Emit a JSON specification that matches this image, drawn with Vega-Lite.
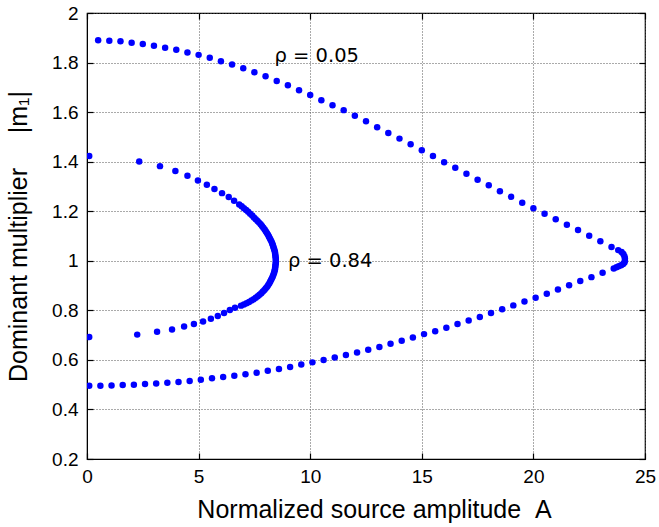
{
  "$schema": "https://vega.github.io/schema/vega-lite/v6.json",
  "autosize": {"type": "none"},
  "width": 558,
  "height": 446,
  "padding": {"left": 87, "top": 13, "right": 14, "bottom": 68},
  "background": "white",
  "config": {
    "view": {"stroke": "black", "strokeWidth": 1.2},
    "axis": {
      "labelFont": "Liberation Sans",
      "labelFontSize": 19,
      "labelColor": "black",
      "titleFont": "Liberation Sans",
      "titleFontSize": 25,
      "titleFontWeight": "normal",
      "titleColor": "black",
      "domainColor": "black",
      "tickColor": "black",
      "tickSize": -6,
      "tickWidth": 1.2,
      "gridColor": "#555",
      "gridDash": [1, 2],
      "gridWidth": 1,
      "gridOpacity": 1
    }
  },
  "datasets": {
    "pts": [
      {"s": "0.05", "x": 0.5, "y": 1.890}, {"s": "0.05", "x": 1.0, "y": 1.888}, {"s": "0.05", "x": 1.5, "y": 1.886}, {"s": "0.05", "x": 2.0, "y": 1.880},
      {"s": "0.05", "x": 2.5, "y": 1.875}, {"s": "0.05", "x": 3.0, "y": 1.868}, {"s": "0.05", "x": 3.5, "y": 1.860}, {"s": "0.05", "x": 4.0, "y": 1.852},
      {"s": "0.05", "x": 4.5, "y": 1.841}, {"s": "0.05", "x": 5.0, "y": 1.831}, {"s": "0.05", "x": 5.5, "y": 1.819}, {"s": "0.05", "x": 6.0, "y": 1.805},
      {"s": "0.05", "x": 6.5, "y": 1.792}, {"s": "0.05", "x": 7.0, "y": 1.777}, {"s": "0.05", "x": 7.5, "y": 1.761}, {"s": "0.05", "x": 8.0, "y": 1.745},
      {"s": "0.05", "x": 8.5, "y": 1.726}, {"s": "0.05", "x": 9.0, "y": 1.708}, {"s": "0.05", "x": 9.5, "y": 1.688}, {"s": "0.05", "x": 10.0, "y": 1.669},
      {"s": "0.05", "x": 10.5, "y": 1.648}, {"s": "0.05", "x": 11.0, "y": 1.628}, {"s": "0.05", "x": 11.5, "y": 1.608}, {"s": "0.05", "x": 12.0, "y": 1.585},
      {"s": "0.05", "x": 12.5, "y": 1.563}, {"s": "0.05", "x": 13.0, "y": 1.539}, {"s": "0.05", "x": 13.5, "y": 1.516}, {"s": "0.05", "x": 14.0, "y": 1.493},
      {"s": "0.05", "x": 14.5, "y": 1.470}, {"s": "0.05", "x": 15.0, "y": 1.446}, {"s": "0.05", "x": 15.5, "y": 1.423}, {"s": "0.05", "x": 16.0, "y": 1.398},
      {"s": "0.05", "x": 16.5, "y": 1.375}, {"s": "0.05", "x": 17.0, "y": 1.351}, {"s": "0.05", "x": 17.5, "y": 1.327}, {"s": "0.05", "x": 18.0, "y": 1.305},
      {"s": "0.05", "x": 18.5, "y": 1.281}, {"s": "0.05", "x": 19.0, "y": 1.258}, {"s": "0.05", "x": 19.5, "y": 1.234}, {"s": "0.05", "x": 20.0, "y": 1.212},
      {"s": "0.05", "x": 20.5, "y": 1.190}, {"s": "0.05", "x": 21.0, "y": 1.168}, {"s": "0.05", "x": 21.5, "y": 1.145}, {"s": "0.05", "x": 22.0, "y": 1.124},
      {"s": "0.05", "x": 22.5, "y": 1.101}, {"s": "0.05", "x": 23.0, "y": 1.079}, {"s": "0.05", "x": 23.5, "y": 1.056},
      {"s": "0.05", "x": 23.8, "y": 1.043}, {"s": "0.05", "x": 23.95, "y": 1.035}, {"s": "0.05", "x": 24.03, "y": 1.027}, {"s": "0.05", "x": 24.08, "y": 1.018},
      {"s": "0.05", "x": 24.1, "y": 1.009}, {"s": "0.05", "x": 24.1, "y": 1.0}, {"s": "0.05", "x": 24.08, "y": 0.993}, {"s": "0.05", "x": 24.02, "y": 0.987},
      {"s": "0.05", "x": 23.93, "y": 0.982}, {"s": "0.05", "x": 23.82, "y": 0.978}, {"s": "0.05", "x": 23.72, "y": 0.974},
      {"s": "0.05", "x": 23.6, "y": 0.969}, {"s": "0.05", "x": 23.1, "y": 0.952}, {"s": "0.05", "x": 22.6, "y": 0.934}, {"s": "0.05", "x": 22.1, "y": 0.918},
      {"s": "0.05", "x": 21.6, "y": 0.901}, {"s": "0.05", "x": 21.1, "y": 0.884}, {"s": "0.05", "x": 20.6, "y": 0.867}, {"s": "0.05", "x": 20.1, "y": 0.851},
      {"s": "0.05", "x": 19.6, "y": 0.836}, {"s": "0.05", "x": 19.1, "y": 0.820}, {"s": "0.05", "x": 18.6, "y": 0.804}, {"s": "0.05", "x": 18.1, "y": 0.789},
      {"s": "0.05", "x": 17.6, "y": 0.773}, {"s": "0.05", "x": 17.1, "y": 0.759}, {"s": "0.05", "x": 16.6, "y": 0.745}, {"s": "0.05", "x": 16.1, "y": 0.730},
      {"s": "0.05", "x": 15.6, "y": 0.716}, {"s": "0.05", "x": 15.1, "y": 0.704}, {"s": "0.05", "x": 14.6, "y": 0.690}, {"s": "0.05", "x": 14.1, "y": 0.677},
      {"s": "0.05", "x": 13.6, "y": 0.665}, {"s": "0.05", "x": 13.1, "y": 0.652}, {"s": "0.05", "x": 12.6, "y": 0.641}, {"s": "0.05", "x": 12.1, "y": 0.630},
      {"s": "0.05", "x": 11.6, "y": 0.620}, {"s": "0.05", "x": 11.1, "y": 0.610}, {"s": "0.05", "x": 10.6, "y": 0.600}, {"s": "0.05", "x": 10.1, "y": 0.590},
      {"s": "0.05", "x": 9.6, "y": 0.581}, {"s": "0.05", "x": 9.1, "y": 0.571}, {"s": "0.05", "x": 8.6, "y": 0.563}, {"s": "0.05", "x": 8.1, "y": 0.556},
      {"s": "0.05", "x": 7.6, "y": 0.548}, {"s": "0.05", "x": 7.1, "y": 0.542}, {"s": "0.05", "x": 6.6, "y": 0.536}, {"s": "0.05", "x": 6.1, "y": 0.531},
      {"s": "0.05", "x": 5.6, "y": 0.526}, {"s": "0.05", "x": 5.1, "y": 0.520}, {"s": "0.05", "x": 4.6, "y": 0.515}, {"s": "0.05", "x": 4.1, "y": 0.511},
      {"s": "0.05", "x": 3.6, "y": 0.508}, {"s": "0.05", "x": 3.1, "y": 0.505}, {"s": "0.05", "x": 2.6, "y": 0.503}, {"s": "0.05", "x": 2.1, "y": 0.500},
      {"s": "0.05", "x": 1.6, "y": 0.499}, {"s": "0.05", "x": 1.1, "y": 0.497}, {"s": "0.05", "x": 0.6, "y": 0.496}, {"s": "0.05", "x": 0.1, "y": 0.496},
      {"s": "0.84", "x": 0.1, "y": 1.423}, {"s": "0.84", "x": 2.34, "y": 1.401}, {"s": "0.84", "x": 3.27, "y": 1.382}, {"s": "0.84", "x": 3.96, "y": 1.362},
      {"s": "0.84", "x": 4.50, "y": 1.343}, {"s": "0.84", "x": 4.97, "y": 1.324}, {"s": "0.84", "x": 5.37, "y": 1.307}, {"s": "0.84", "x": 5.71, "y": 1.290},
      {"s": "0.84", "x": 6.05, "y": 1.273}, {"s": "0.84", "x": 6.35, "y": 1.257}, {"s": "0.84", "x": 6.59, "y": 1.242}, {"s": "0.84", "x": 6.82, "y": 1.227},
      {"s": "0.84", "x": 6.93, "y": 1.220}, {"s": "0.84", "x": 7.03, "y": 1.212}, {"s": "0.84", "x": 7.13, "y": 1.205}, {"s": "0.84", "x": 7.22, "y": 1.198},
      {"s": "0.84", "x": 7.31, "y": 1.190}, {"s": "0.84", "x": 7.40, "y": 1.183}, {"s": "0.84", "x": 7.48, "y": 1.175}, {"s": "0.84", "x": 7.56, "y": 1.168},
      {"s": "0.84", "x": 7.64, "y": 1.161}, {"s": "0.84", "x": 7.71, "y": 1.154}, {"s": "0.84", "x": 7.78, "y": 1.147}, {"s": "0.84", "x": 7.84, "y": 1.140},
      {"s": "0.84", "x": 7.90, "y": 1.133}, {"s": "0.84", "x": 7.96, "y": 1.126}, {"s": "0.84", "x": 8.01, "y": 1.119}, {"s": "0.84", "x": 8.06, "y": 1.112},
      {"s": "0.84", "x": 8.11, "y": 1.105}, {"s": "0.84", "x": 8.15, "y": 1.098}, {"s": "0.84", "x": 8.19, "y": 1.091}, {"s": "0.84", "x": 8.23, "y": 1.084},
      {"s": "0.84", "x": 8.27, "y": 1.077}, {"s": "0.84", "x": 8.30, "y": 1.070}, {"s": "0.84", "x": 8.33, "y": 1.063}, {"s": "0.84", "x": 8.35, "y": 1.056},
      {"s": "0.84", "x": 8.38, "y": 1.049}, {"s": "0.84", "x": 8.40, "y": 1.042}, {"s": "0.84", "x": 8.42, "y": 1.035}, {"s": "0.84", "x": 8.43, "y": 1.028},
      {"s": "0.84", "x": 8.44, "y": 1.021}, {"s": "0.84", "x": 8.45, "y": 1.014}, {"s": "0.84", "x": 8.46, "y": 1.007}, {"s": "0.84", "x": 8.46, "y": 1.000},
      {"s": "0.84", "x": 8.46, "y": 0.993}, {"s": "0.84", "x": 8.45, "y": 0.986}, {"s": "0.84", "x": 8.44, "y": 0.979}, {"s": "0.84", "x": 8.43, "y": 0.972},
      {"s": "0.84", "x": 8.42, "y": 0.965}, {"s": "0.84", "x": 8.40, "y": 0.958}, {"s": "0.84", "x": 8.38, "y": 0.951}, {"s": "0.84", "x": 8.35, "y": 0.944},
      {"s": "0.84", "x": 8.32, "y": 0.937}, {"s": "0.84", "x": 8.29, "y": 0.930}, {"s": "0.84", "x": 8.25, "y": 0.923}, {"s": "0.84", "x": 8.21, "y": 0.916},
      {"s": "0.84", "x": 8.17, "y": 0.909}, {"s": "0.84", "x": 8.12, "y": 0.902}, {"s": "0.84", "x": 8.07, "y": 0.895}, {"s": "0.84", "x": 8.01, "y": 0.889},
      {"s": "0.84", "x": 7.95, "y": 0.882}, {"s": "0.84", "x": 7.88, "y": 0.876}, {"s": "0.84", "x": 7.81, "y": 0.869}, {"s": "0.84", "x": 7.73, "y": 0.863},
      {"s": "0.84", "x": 7.65, "y": 0.857}, {"s": "0.84", "x": 7.56, "y": 0.851}, {"s": "0.84", "x": 7.47, "y": 0.845}, {"s": "0.84", "x": 7.37, "y": 0.840},
      {"s": "0.84", "x": 7.26, "y": 0.834}, {"s": "0.84", "x": 7.15, "y": 0.829}, {"s": "0.84", "x": 7.03, "y": 0.824}, {"s": "0.84", "x": 6.90, "y": 0.819},
      {"s": "0.84", "x": 6.63, "y": 0.810}, {"s": "0.84", "x": 6.40, "y": 0.801},
      {"s": "0.84", "x": 6.14, "y": 0.789}, {"s": "0.84", "x": 5.86, "y": 0.777}, {"s": "0.84", "x": 5.55, "y": 0.766}, {"s": "0.84", "x": 5.20, "y": 0.755},
      {"s": "0.84", "x": 4.79, "y": 0.745}, {"s": "0.84", "x": 4.35, "y": 0.735}, {"s": "0.84", "x": 3.81, "y": 0.723}, {"s": "0.84", "x": 3.14, "y": 0.714},
      {"s": "0.84", "x": 2.25, "y": 0.702}, {"s": "0.84", "x": 0.1, "y": 0.692}
    ],
    "labels": [
      {"x": 8.4, "y": 1.826, "t": "ρ = 0.05"},
      {"x": 9.0, "y": 0.998, "t": "ρ = 0.84"}
    ]
  },
  "layer": [
    {
      "data": {"name": "pts"},
      "mark": {"type": "point", "shape": "circle", "filled": true, "color": "#0000ff", "opacity": 1, "size": 42, "clip": true},
      "encoding": {
        "x": {
          "field": "x", "type": "quantitative",
          "scale": {"domain": [0, 25], "nice": false, "zero": false},
          "axis": {"values": [0, 5, 10, 15, 20, 25], "grid": true, "labelPadding": 14, "title": "Normalized source amplitude\u00a0\u00a0A", "titlePadding": 11, "titleX": 287, "labelFlush": false}
        },
        "y": {
          "field": "y", "type": "quantitative",
          "scale": {"domain": [0.2, 2], "nice": false, "zero": false},
          "axis": {"values": [0.2, 0.4, 0.6, 0.8, 1, 1.2, 1.4, 1.6, 1.8, 2], "format": "~g", "grid": true, "labelPadding": 15, "title": "Dominant multiplier\u00a0\u00a0\u00a0\u00a0\u00a0|m₁|", "titlePadding": 20, "labelFlush": false}
        }
      }
    },
    {
      "data": {"name": "labels"},
      "mark": {"type": "text", "align": "left", "baseline": "middle", "font": "DejaVu Sans", "fontSize": 19.5, "color": "black"},
      "encoding": {
        "x": {"field": "x", "type": "quantitative", "axis": {"orient": "top", "values": [0, 5, 10, 15, 20, 25], "labels": false, "grid": false, "domain": false, "title": null}},
        "y": {"field": "y", "type": "quantitative", "axis": {"orient": "right", "values": [0.2, 0.4, 0.6, 0.8, 1, 1.2, 1.4, 1.6, 1.8, 2], "labels": false, "grid": false, "domain": false, "title": null}},
        "text": {"field": "t", "type": "nominal"}
      }
    }
  ],
  "resolve": {"axis": {"x": "independent", "y": "independent"}}
}
